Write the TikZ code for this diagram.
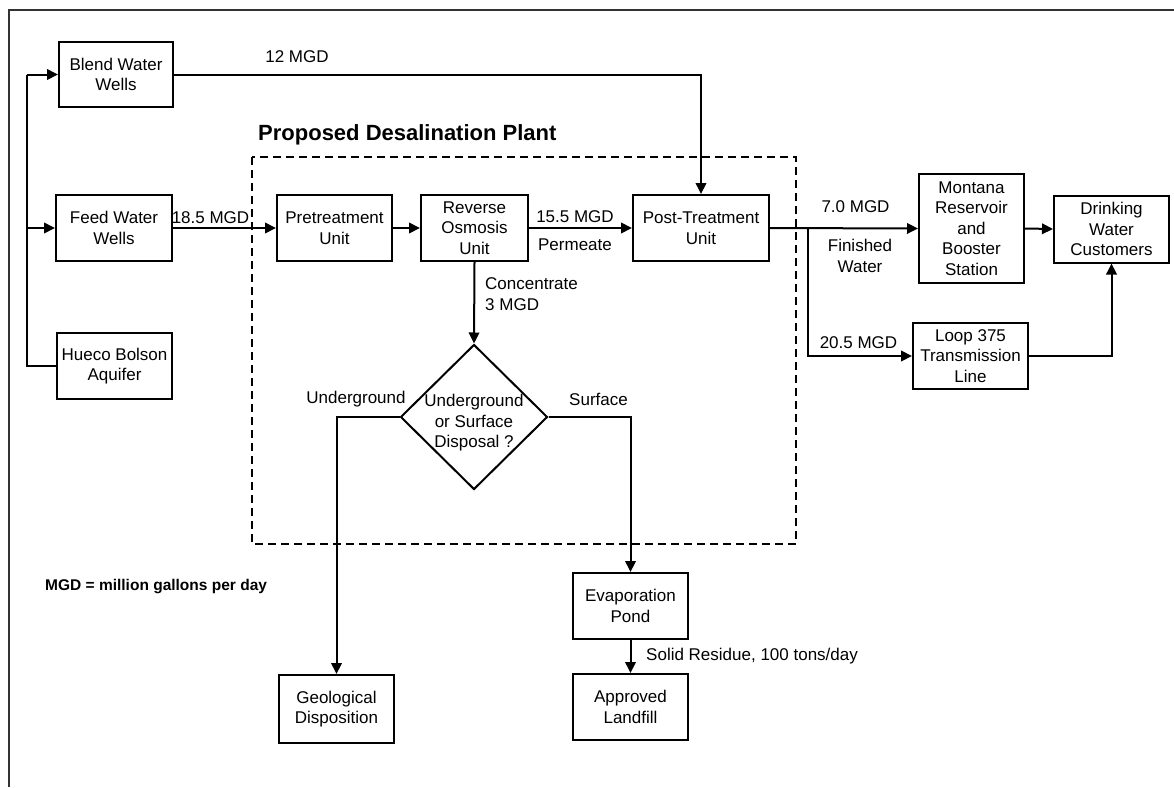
\documentclass[tikz,border=0pt]{standalone}
\usepackage{fontspec}
\setmainfont{Liberation Sans}
\usetikzlibrary{arrows.meta,shapes.geometric}
\begin{document}
\begin{tikzpicture}[x=1pt,y=-1pt,
  every node/.style={font=\fontsize{17}{20.5}\selectfont},
  box/.style={draw, line width=2pt, align=center, inner sep=0pt, rectangle},
  conn/.style={line width=2pt},
  arr/.style={line width=2pt, -{Triangle[length=11pt,width=10.5pt]}},
  lbl/.style={inner sep=0pt},
  plant/.style={line width=2.6pt, dash pattern=on 8pt off 5pt}
]
\useasboundingbox (0,0) rectangle (1174,787);
% frame
\coordinate (ftr) at (1174,10);
\coordinate (ftl) at (9,10);
\coordinate (fbl) at (9,787);
\draw[line width=1.2pt, black!80] (ftr) -- (ftl) -- (fbl);

% plant boundary
\coordinate (pa) at (252,157);
\coordinate (pb) at (796,544);
\draw[plant] (pa) rectangle (pb);
\node[lbl, anchor=west, font=\fontsize{22}{26}\selectfont\bfseries] (title) at (258,135) {Proposed Desalination Plant};

% boxes
\node[box, minimum width=114pt, minimum height=65pt] (blend) at (116,74.5) {Blend Water\\Wells};
\node[box, minimum width=116pt, minimum height=66pt] (feed) at (114,228) {Feed Water\\Wells};
\node[box, minimum width=115pt, minimum height=66pt] (hueco) at (114.5,366) {Hueco Bolson\\Aquifer};
\node[box, minimum width=115pt, minimum height=66pt] (pre) at (334.5,228) {Pretreatment\\Unit};
\node[box, minimum width=107pt, minimum height=66pt] (ro) at (474.5,228) {Reverse\\Osmosis\\Unit};
\node[box, minimum width=136pt, minimum height=66pt] (post) at (701,228) {Post-Treatment\\Unit};
\node[box, minimum width=105pt, minimum height=109pt] (mont) at (971.5,228.5) {Montana\\Reservoir\\and\\Booster\\Station};
\node[box, minimum width=115pt, minimum height=67pt] (drink) at (1111.5,229) {Drinking\\Water\\Customers};
\node[box, minimum width=115pt, minimum height=66pt] (loop) at (970.5,356) {Loop 375\\Transmission\\Line};
\node[draw, diamond, line width=2pt, inner sep=0pt, minimum width=147pt, minimum height=145pt] (dec) at (474,417) {};
\node[lbl, align=center] (dectext) at (474,423) {Underground\\or Surface\\Disposal ?};
\node[box, minimum width=115pt, minimum height=68pt] (geo) at (336.5,709) {Geological\\Disposition};
\node[box, minimum width=115pt, minimum height=66pt] (evap) at (630.5,606) {Evaporation\\Pond};
\node[box, minimum width=115pt, minimum height=66pt] (land) at (630.5,707) {Approved\\Landfill};

% left feed lines
\coordinate (lt) at (27,74.5);
\coordinate (lm) at (27,228);
\coordinate (lb) at (27,366);
\draw[conn] (hueco.west) -- (lb) -- (lt);
\draw[arr] (lt) -- (blend.west);
\draw[arr] (lm) -- (feed.west);

% main flow
\draw[arr] (blend.east) -| (post.north);
\draw[arr] (feed.east) -- (pre.west);
\draw[arr] (pre.east) -- (ro.west);
\draw[arr] (ro.east) -- (post.west);
\draw[arr] (post.east) -- (mont.west);
\coordinate (jn) at (808,228.5);
\draw[arr] (jn) |- (loop.west);
\draw[arr] (mont.east) -- (drink.west);
\draw[arr] (loop.east) -| (drink.south);
\draw[arr] (ro.south) -- (dec.north);
\draw[arr] (dec.west) -| (geo.north);
\draw[arr] (dec.east) -| (evap.north);
\draw[arr] (evap.south) -- (land.north);

% labels
\node[lbl] (l12) at (297,57) {12 MGD};
\node[lbl] (l185) at (210.5,218) {18.5 MGD};
\node[lbl] (l155) at (575,217) {15.5 MGD};
\node[lbl] (lperm) at (575,245) {Permeate};
\node[lbl] (l70) at (855.5,207) {7.0 MGD};
\node[lbl, align=center] (lfin) at (860,256) {Finished\\Water};
\node[lbl] (l205) at (858.5,343) {20.5 MGD};
\node[lbl, align=left, anchor=west] (lconc) at (485,294) {Concentrate\\3 MGD};
\node[lbl] (lund) at (356,399) {Underground};
\node[lbl] (lsurf) at (598.5,399) {Surface};
\node[lbl, anchor=west] (lsolid) at (646,656) {Solid Residue, 100 tons/day};
\node[lbl, anchor=west, font=\fontsize{15.5}{18}\selectfont\bfseries] (lmgd) at (45,587) {MGD = million gallons per day};
\end{tikzpicture}
\end{document}
